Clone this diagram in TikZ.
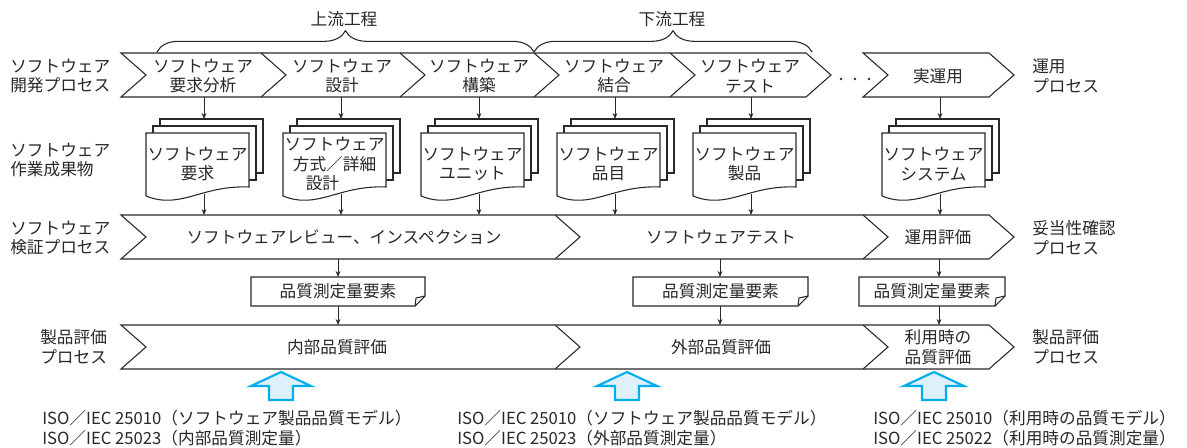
\documentclass[tikz,border=0pt]{standalone}
\usepackage{fontspec}
\setmainfont{Noto Sans CJK JP}
\usetikzlibrary{arrows.meta,decorations.pathreplacing}
\definecolor{ink}{RGB}{40,40,40}
\definecolor{bluel}{RGB}{0,174,235}
\definecolor{bluef}{RGB}{222,241,250}
\tikzset{
  line/.style={draw=ink, line width=0.8pt, line join=miter},
  arr/.style={draw=ink, line width=0.6pt, -{Stealth[length=4.5pt,width=3.6pt]}},
  txt/.style={inner sep=0pt, align=center, text=ink},
  lbl/.style={inner sep=0pt, align=left, anchor=west, text=ink},
  blockarrow/.style={draw=bluel, line width=1.6pt, fill=bluef, line join=miter},
  bracestyle/.style={draw=ink, line width=0.8pt, decorate, decoration={brace, amplitude=16pt}}
}
\newcommand\docstack[3]{%
  \draw[line, fill=white] (#2-44,119) rectangle (#2+59,173);
  \draw[line, fill=white] (#2-51,126) rectangle (#2+52,180);
  \draw[line, fill=white] (#2-58,133) -- (#2+45,133) -- (#2+45,187)
     .. controls (#2-3,185) and (#2-23,210) .. (#2-58,196) -- cycle;
  \coordinate (#1t) at (#2,119);
  \coordinate (#1b) at (#2,194);
  \node[txt] (#1) at (#2-6.5,164) {#3};
}
\newcommand\qbox[4]{%
  \draw[line, fill=white] (#2,277) -- (#3,277) -- (#3,296) -- (#3-10,306) -- (#2,306) -- cycle;
  \draw[line] (#3-10,306) -- (#3-9,298) -- (#3,296);
  \coordinate (#1t) at (#4,277);
  \coordinate (#1b) at (#4,306);
  \node[txt] (#1) at ({(#2+#3)/2},291.5) {品質測定量要素};
}
\newcommand\bluearrow[1]{%
  \draw[blockarrow] (#1,372) -- (#1+30,386) -- (#1+12,386) -- (#1+12,400)
     -- (#1-12,400) -- (#1-12,386) -- (#1-30,386) -- cycle;
}
\begin{document}
\begin{tikzpicture}[x=0.75pt,y=-0.75pt, font=\fontsize{12.5}{14.6}\selectfont]
\fill[white] (0,0) rectangle (1187,448);
\useasboundingbox (0,0) rectangle (1187,448);

% top labels and braces
\node[txt] (up) at (344,19) {上流工程};
\node[txt] (down) at (672,19) {下流工程};
\draw[bracestyle] (157,52) -- (534,52);
\draw[bracestyle] (534,52) -- (812,52);

% row 1: development process
\draw[line] (121,53) -- (806,53) -- (831,75) -- (806,97) -- (121,97) -- (146,75) -- cycle;
\foreach \b in {261,400,534,670} \draw[line] (\b,53) -- (\b+25,75) -- (\b,97);
\draw[line] (863,53) -- (989,53) -- (1014,75) -- (989,97) -- (863,97) -- (888,75) -- cycle;
\foreach \d in {841,855,869} \fill[ink] (\d,79) circle (1.4);

\node[txt] (p1) at (203,76) {ソフトウェア\\要求分析};
\node[txt] (p2) at (342,76) {ソフトウェア\\設計};
\node[txt] (p3) at (479,76) {ソフトウェア\\構築};
\node[txt] (p4) at (614,76) {ソフトウェア\\結合};
\node[txt] (p5) at (750,76) {ソフトウェア\\テスト};
\node[txt] (p6) at (938,76) {実運用};
\foreach \n/\x in {1/204,2/341,3/479,4/615,5/751,6/940} \coordinate (p\n b) at (\x,97);

\node[lbl] (l1) at (10,76) {ソフトウェア\\開発プロセス};
\node[lbl] (r1) at (1032,76) {運用\\プロセス};

% row 2: work products
\node[lbl] (l2) at (10,160) {ソフトウェア\\作業成果物};
\docstack{d1}{204}{ソフトウェア\\要求}
\docstack{d2}{341}{ソフトウェア\\方式／詳細\\設計\hspace*{1.45em}}
\docstack{d3}{479}{ソフトウェア\\ユニット}
\docstack{d4}{615}{ソフトウェア\\品目}
\docstack{d5}{751}{ソフトウェア\\製品}
\docstack{d6}{940}{ソフトウェア\\システム}
\foreach \n in {1,...,6} \draw[arr] (p\n b) -- (d\n t);

% row 3: verification
\draw[line] (121,215) -- (989,215) -- (1014,237) -- (989,259) -- (121,259) -- (146,237) -- cycle;
\draw[line] (555,215) -- (580,237) -- (555,259);
\draw[line] (863,215) -- (888,237) -- (863,259);
\node[txt] (v1) at (344,237) {ソフトウェアレビュー、インスペクション};
\node[txt] (v2) at (721,237) {ソフトウェアテスト};
\node[txt] (v3) at (938,237) {運用評価};
\node[lbl] (l3) at (10,238) {ソフトウェア\\検証プロセス};
\node[lbl] (r3) at (1032,238) {妥当性確認\\プロセス};
\foreach \n/\x in {1/204,2/341,3/479,4/615,5/751,6/940} {
  \coordinate (vt\n) at (\x,215);
  \draw[arr] (d\n b) -- (vt\n);
}

% row 4: quality measure elements
\qbox{q1}{251}{425}{338}
\qbox{q2}{633}{808}{720}
\qbox{q3}{859}{1005}{939}
\foreach \n/\x in {1/338,2/720,3/939} {
  \coordinate (vb\n) at (\x,259);
  \coordinate (et\n) at (\x,325);
  \draw[arr] (vb\n) -- (q\n t);
  \draw[arr] (q\n b) -- (et\n);
}

% row 5: product evaluation
\draw[line] (121,325) -- (989,325) -- (1014,347) -- (989,369) -- (121,369) -- (146,347) -- cycle;
\draw[line] (555,325) -- (580,347) -- (555,369);
\draw[line] (863,325) -- (888,347) -- (863,369);
\node[txt] (e1) at (337,347) {内部品質評価};
\node[txt] (e2) at (721,347) {外部品質評価};
\node[txt] (e3) at (938,347) {利用時の\\品質評価};
\node[lbl] (l5) at (40,347) {製品評価\\プロセス};
\node[lbl] (r5) at (1032,347) {製品評価\\プロセス};

% block arrows
\bluearrow{281}
\bluearrow{627}
\bluearrow{934}

% standards
\begin{scope}[font=\fontsize{12.5}{15}\selectfont]
\node[lbl] (s1) at (42,428) {ISO／IEC 25010（ソフトウェア製品品質モデル）\\ISO／IEC 25023（内部品質測定量）};
\node[lbl] (s2) at (457,428) {ISO／IEC 25010（ソフトウェア製品品質モデル）\\ISO／IEC 25023（外部品質測定量）};
\node[lbl] (s3) at (873,428) {ISO／IEC 25010（利用時の品質モデル）\\ISO／IEC 25022（利用時の品質測定量）};
\end{scope}
\end{tikzpicture}
\end{document}
